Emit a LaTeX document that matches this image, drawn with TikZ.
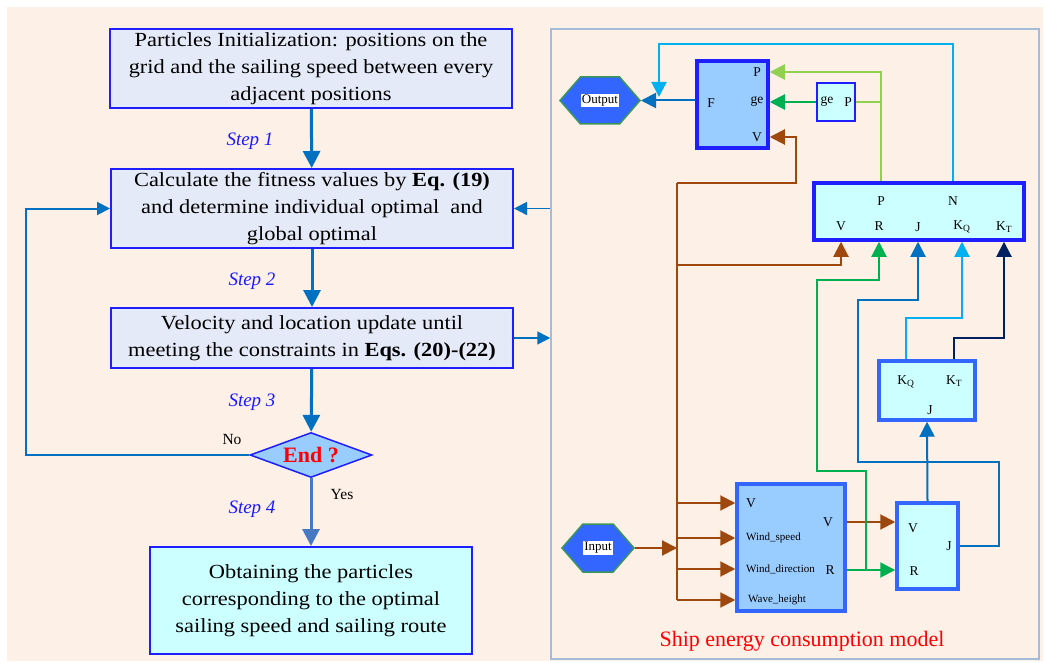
\documentclass[tikz,border=0pt]{standalone}
\usepackage{fontspec}
\setmainfont{Liberation Serif}
\newfontfamily\boxfont{Liberation Serif}[FakeStretch=1.12]
\usetikzlibrary{arrows.meta,shapes.geometric,shapes.symbols}
\definecolor{peach}{RGB}{253,240,231}
\definecolor{panelline}{RGB}{166,187,216}
\definecolor{lavender}{RGB}{228,234,247}
\definecolor{boxblue}{RGB}{30,30,255}
\definecolor{paleCyan}{RGB}{204,255,255}
\definecolor{midblue}{RGB}{153,204,255}
\definecolor{royal}{RGB}{51,102,255}
\definecolor{hexgreen}{RGB}{60,150,90}
\definecolor{flowblue}{RGB}{0,112,192}
\definecolor{steel}{RGB}{70,120,195}
\definecolor{rust}{RGB}{158,72,14}
\definecolor{leaf}{RGB}{0,176,80}
\definecolor{lime}{RGB}{146,208,80}
\definecolor{sky}{RGB}{0,176,240}
\definecolor{navy}{RGB}{0,32,96}
\definecolor{stepblue}{RGB}{26,26,255}
\begin{document}
\begin{tikzpicture}[x=1pt,y=-1pt,
  box/.style={draw=boxblue,line width=2pt,fill=lavender,minimum width=402pt,minimum height=79pt,
    inner sep=0pt,align=center,font=\boxfont\fontsize{20}{27}\selectfont},
  decision/.style={diamond,draw=boxblue,line width=1.5pt,fill=midblue,minimum width=122pt,
    minimum height=45pt,inner sep=0pt,aspect=2.7,text=red,font=\bfseries\fontsize{22}{24}\selectfont},
  steplab/.style={text=stepblue,inner sep=0pt,font=\itshape\fontsize{19}{22}\selectfont},
  answer/.style={inner sep=0pt,font=\fontsize{15.5}{18}\selectfont},
  flow/.style={draw=flowblue,line width=3pt,-{Triangle[width=17pt,length=17pt]}},
  thin flow/.style={draw=flowblue,line width=2pt,-{Triangle[width=13pt,length=13pt]}},
  hexa/.style={signal,signal to=west and east,signal pointer angle=98,draw=hexgreen,line width=1.5pt,
    fill=royal,minimum width=80pt,minimum height=47pt,inner sep=0pt,font=\fontsize{13}{15}\selectfont},
  port/.style={draw=boxblue,line width=3.5pt,fill=paleCyan,inner sep=0pt},
  lab/.style={inner sep=0pt,font=\fontsize{13.5}{15}\selectfont},
  small lab/.style={inner sep=0pt,anchor=west,font=\fontsize{11}{13}\selectfont},
  wire/.style={line width=2pt,-{Triangle[width=15pt,length=15pt]}}]
  \useasboundingbox (0,0) rectangle (1046,663);
  \fill[peach] (7,7) rectangle (1043,661);
  \node[draw=panelline,line width=1.5pt,minimum width=488pt,minimum height=630pt] (panel) at (795,344) {};
  \node[box] (init) at (311,68.5) {Particles Initialization: positions on the\\grid and the sailing speed between every\\adjacent positions};
  \node[box] (fit) at (312,208.5) {Calculate the fitness values by \textbf{Eq. (19)}\\and determine individual optimal\ \ and\\global optimal};
  \node[box,minimum height=60pt] (upd) at (312,338) {Velocity and location update until\\meeting the constraints in \textbf{Eqs. (20)-(22)}};
  \node[decision] (endq) at (311,455) {End ?};
  \node[box,fill=paleCyan,minimum width=322pt,minimum height=107pt] (res) at (311,600.5) {Obtaining the particles\\corresponding to the optimal\\sailing speed and sailing route};
  \node[steplab] (s1) at (250,141) {Step 1};
  \node[steplab] (s2) at (252,281) {Step 2};
  \node[steplab] (s3) at (252,402) {Step 3};
  \node[steplab] (s4) at (252,509) {Step 4};
  \node[answer] (no) at (232,439) {No};
  \node[answer] (yes) at (342,494) {Yes};
  \draw[flow] (init) -- (fit);
  \draw[flow] (fit) -- (upd);
  \draw[flow] (upd) -- (endq);
  \draw[flow,draw=steel] (endq) -- (res);
  \draw[thin flow] (endq.west) -| ([xshift=-84pt]fit.west) -- (fit.west);
  \draw[thin flow,line width=1.5pt] (panel.west |- fit.east) -- (fit.east);
  \draw[thin flow,line width=1.5pt] (upd.east) -- (panel.west |- upd.east);
  \node[hexa] (out) at (600,100.5) {\fboxsep=1pt\colorbox{white}{Output}};
  \node[hexa,minimum width=72pt,minimum height=48pt] (inp) at (598,548) {\fboxsep=1pt\colorbox{white}{Input}};
  \node[port,fill=midblue,minimum width=71pt,minimum height=87pt] (F) at (732.5,104.5) {};
  \node[port,line width=2pt,minimum width=38pt,minimum height=38pt] (geP) at (836,102) {};
  \node[port,minimum width=210pt,minimum height=57pt] (pn) at (919,211.5) {};
  \node[port,draw=royal,minimum width=96pt,minimum height=59pt] (kk) at (927,390.5) {};
  \node[port,draw=royal,minimum width=61pt,minimum height=86pt] (vrj) at (927.5,546) {};
  \node[port,draw=royal,fill=midblue,minimum width=108pt,minimum height=127pt] (ship) at (791,547.5) {};
  \node[lab] (lF) at (711,103) {F};
  \node[lab] (lFP) at (757,72) {P};
  \node[lab] (lFge) at (757,101) {ge};
  \node[lab] (lFV) at (757,137) {V};
  \node[lab] (lgge) at (827,101) {ge};
  \node[lab] (lgP) at (848,102) {P};
  \node[lab] (lpP) at (881,201) {P};
  \node[lab] (lpN) at (953,201) {N};
  \node[lab] (lpV) at (841,226) {V};
  \node[lab] (lpR) at (879,226) {R};
  \node[lab] (lpJ) at (918,227) {J};
  \node[lab] (lpQ) at (962,227) {K\textsubscript{Q}};
  \node[lab] (lpT) at (1004,227) {K\textsubscript{T}};
  \node[lab] (lkQ) at (906,382) {K\textsubscript{Q}};
  \node[lab] (lkT) at (954,381) {K\textsubscript{T}};
  \node[lab] (lkJ) at (930,410) {J};
  \node[lab] (lvV) at (913,528) {V};
  \node[lab] (lvR) at (914,571) {R};
  \node[lab] (lvJ) at (949,546) {J};
  \node[lab] (lsV) at (751,503) {V};
  \node[small lab] (lsWs) at (746,538) {Wind\_speed};
  \node[small lab] (lsWd) at (746,569) {Wind\_direction};
  \node[small lab] (lsWh) at (748,600) {Wave\_height};
  \node[lab] (lsVo) at (828,522) {V};
  \node[lab] (lsR) at (830,570) {R};
  \node[text=red,inner sep=0pt,font=\fontsize{22}{26}\selectfont] (title) at (802,641) {Ship energy consumption model};
  \coordinate (trunk) at (677,183);
  \coordinate (ntip) at (659,97);
  \draw[wire,flowblue] (F.west |- out.east) -- (out.east);
  \draw[wire,sky] (lpN |- pn.north) -- ++(0,-137) -| (ntip);
  \draw[wire,lime] (lpP |- pn.north) |- (F.east |- lFP);
  \draw[line width=2pt,lime] (geP.east) -- (lpP |- geP.east);
  \draw[wire,leaf] (geP.west) -- (F.east |- geP.west);
  \draw[wire,rust] (inp.east) -- (trunk |- inp.east);
  \draw[line width=2pt,rust] (trunk) -- (trunk |- lsWh);
  \draw[wire,rust] (trunk) -| ++(119,-46) -- (F.east |- lFV);
  \draw[wire,rust] (trunk) ++(0,82) -| (lpV |- pn.south);
  \draw[wire,rust] (trunk |- lsV) -- (ship.west |- lsV);
  \draw[wire,rust] (trunk |- lsWs) -- (ship.west |- lsWs);
  \draw[wire,rust] (trunk |- lsWd) -- (ship.west |- lsWd);
  \draw[wire,rust] (trunk |- lsWh) -- (ship.west |- lsWh);
  \draw[wire,rust] (ship.east |- lsVo) -- (vrj.west |- lsVo);
  \draw[wire,leaf] (ship.east |- lsR) -- (vrj.west |- lsR);
  \draw[wire,leaf] (ship.east |- lsR) ++(19,0) -- ++(0,-99) -- ++(-49,0) -- ++(0,-191) -| (lpR |- pn.south);
  \draw[wire,flowblue] (vrj.east |- lvJ) -- ++(39,0) -- ++(0,-84) -- ++(-141,0) -- ++(0,-162) -| (lpJ |- pn.south);
  \draw[wire,flowblue] (vrj.north) -- (kk.south);
  \draw[wire,sky] (lkQ |- kk.north) -- ++(0,-41) -| (lpQ |- pn.south);
  \draw[wire,navy] (lkT |- kk.north) -- ++(0,-21) -| (lpT |- pn.south);
\end{tikzpicture}
\end{document}
